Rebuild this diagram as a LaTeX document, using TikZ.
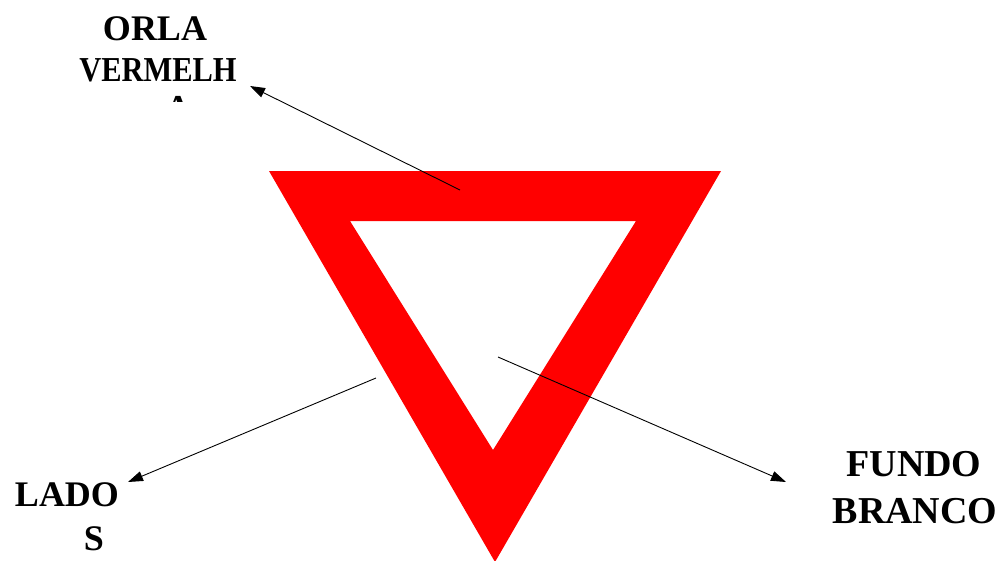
\documentclass[tikz,border=0pt]{standalone}
\usepackage{fontspec}
\setmainfont{Liberation Serif}
\usepackage{tikz}
\usetikzlibrary{arrows.meta}
\definecolor{orlared}{RGB}{255,0,0}

\begin{document}
\begin{tikzpicture}[
    x=1pt, y=-1pt,
    lbl/.style={inner sep=0pt, font=\bfseries\fontsize{36}{40}\selectfont},
    lblbig/.style={lbl, font=\bfseries\fontsize{38}{42}\selectfont},
    lblsmall/.style={lbl, font=\bfseries\fontsize{35}{38}\selectfont},
    arr/.style={-{Triangle[length=15pt,width=10pt]}, line width=0.9pt, color=black},
]
\useasboundingbox (0,0) rectangle (1003,560);

% --- Sign ---
\fill[orlared, even odd rule] (269,171) -- (721,171) -- (495,562) -- cycle
                              (350,221) -- (636,221) -- (493,450) -- cycle;

% --- Labels ---
\node[lbl] (orla) at (155,29) {ORLA};
\node[lblsmall] (verm) at (158,70) {\scalebox{0.87}[1]{VERMELH}};
\begin{scope}
  \clip (168,92) rectangle (188,101.5);
  \node[lblsmall, anchor=north] (verma) at (178,96.5) {A};
\end{scope}
\node[lbl] (lado) at (67,495) {LADO};
\node[lbl] (lados) at (94,539) {S};
\node[lblbig] (fundo) at (914,464) {FUNDO};
\node[lblbig] (branco) at (915,511) {BRANCO};

% --- Arrow ends ---
\coordinate (orlafrom) at (460,190);
\coordinate (orlato) at (250,86);
\coordinate (ladofrom) at (376,378);
\coordinate (ladoto) at (128,482);
\coordinate (fundofrom) at (498,357);
\coordinate (fundoto) at (786,482);

% --- Arrows ---
\draw[arr] (orlafrom) -- (orlato);
\draw[arr] (ladofrom) -- (ladoto);
\draw[arr] (fundofrom) -- (fundoto);

\end{tikzpicture}
\end{document}
